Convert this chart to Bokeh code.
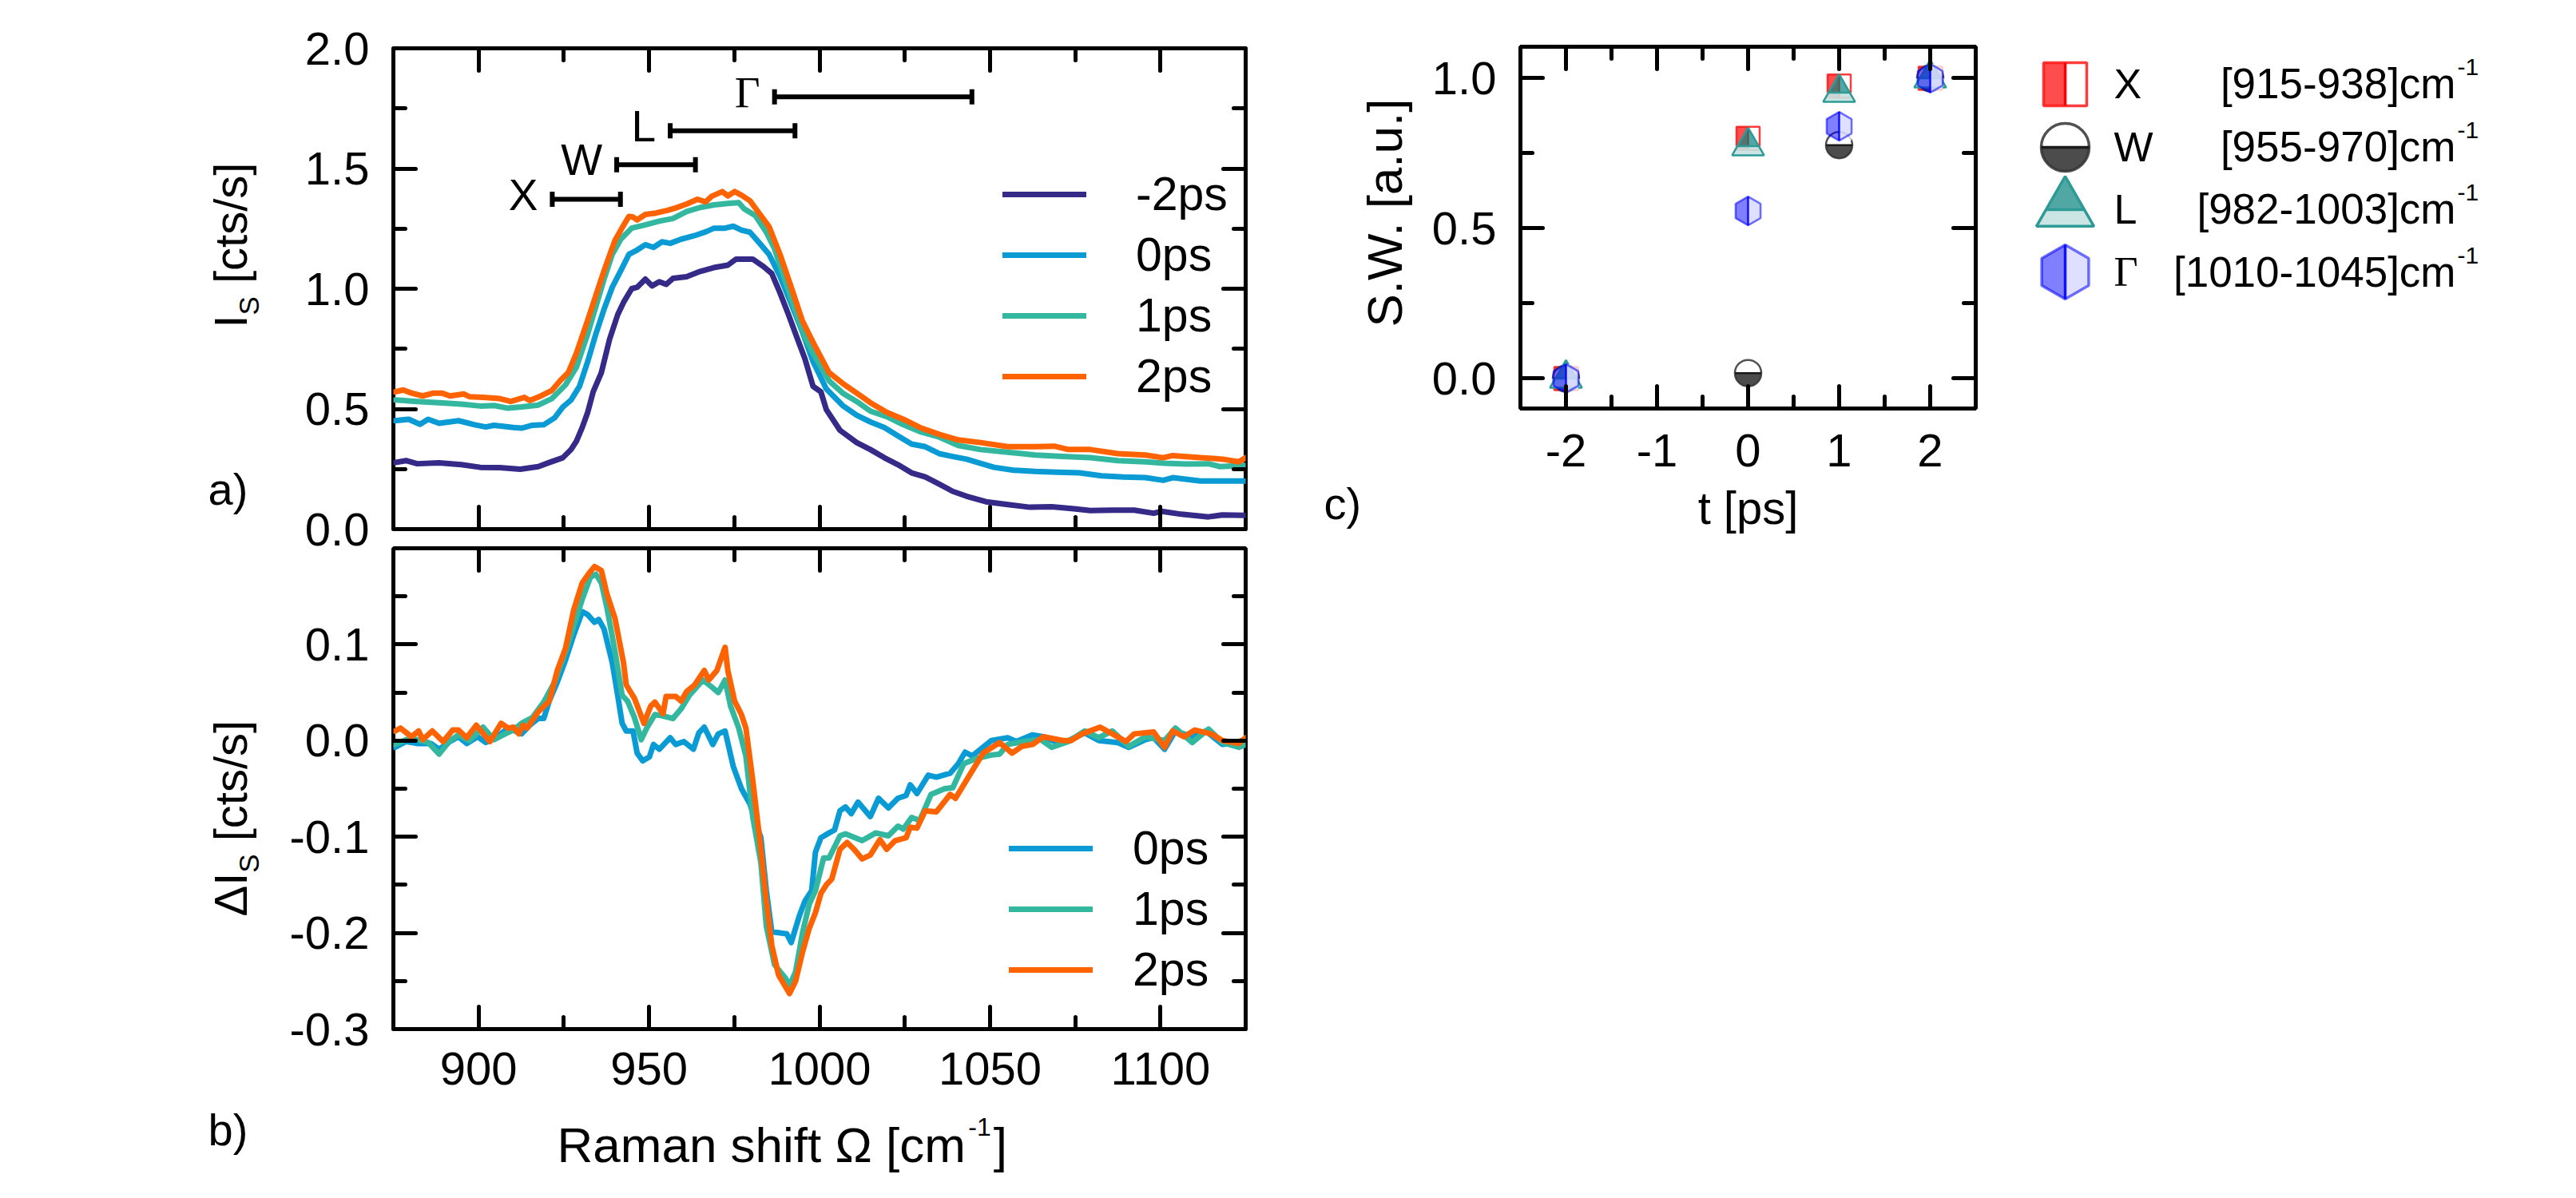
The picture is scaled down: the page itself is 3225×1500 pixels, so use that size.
import numpy as np
from bokeh.plotting import figure
from bokeh.models import (Range1d, LinearAxis, FixedTicker, PrintfTickFormatter,
                          CustomJSTickFormatter, Legend, LegendItem, Whisker,
                          TeeHead, ColumnDataSource)
from bokeh.layouts import row, column
from bokeh.transform import dodge
from bokeh.core.properties import value
from bokeh.embed import file_html
from bokeh.resources import INLINE

# ======================= DATA =======================
# ---- panel a : I_S spectra ----
a_m2_x = [875.5, 878.7, 882.0, 888.4, 894.9, 900.5, 906.2, 912.2, 917.5, 920.7, 924.7, 927.1, 928.7,
          930.4, 932.0, 933.6, 936.0, 938.4, 940.8, 942.5, 944.9, 946.5, 948.9, 950.9, 953.0, 955.0,
          957.0, 961.0, 965.0, 969.0, 973.1, 975.5, 980.4, 983.6, 986.0, 988.4, 990.9, 993.3, 995.7,
          998.1, 1000.4, 1002.0, 1006.0, 1010.9, 1014.9, 1019.0, 1023.0, 1027.0, 1031.0, 1035.0,
          1039.1, 1043.1, 1048.8, 1055.2, 1061.7, 1068.1, 1074.6, 1079.4, 1085.9, 1092.3, 1098.0,
          1100.4, 1106.1, 1114.1, 1118.2, 1124.6]
a_m2_y = [0.277, 0.285, 0.272, 0.276, 0.268, 0.257, 0.256, 0.249, 0.260, 0.277, 0.297, 0.331, 0.366,
          0.423, 0.486, 0.571, 0.651, 0.789, 0.892, 0.943, 1.000, 1.006, 1.040, 1.012, 1.029, 1.018,
          1.043, 1.050, 1.072, 1.088, 1.098, 1.123, 1.123, 1.092, 1.063, 0.983, 0.892, 0.800, 0.709,
          0.594, 0.571, 0.497, 0.411, 0.360, 0.331, 0.297, 0.268, 0.234, 0.217, 0.188,
          0.157, 0.137, 0.114, 0.102, 0.091, 0.093, 0.085, 0.077, 0.079, 0.079, 0.066,
          0.074, 0.062, 0.051, 0.059, 0.057]

a_0_x = [875.5, 879.5, 882.8, 885.2, 888.4, 894.1, 898.9, 902.1, 904.5, 910.2, 912.6, 915.8, 919.1,
         922.3, 924.7, 927.1, 929.6, 932.0, 934.4, 936.8, 939.2, 941.7, 944.1, 946.5, 948.9, 951.3,
         953.8, 956.2, 959.4, 963.4, 966.7, 969.1, 972.3, 974.7, 977.1, 979.6, 982.8, 985.2, 988.4,
         991.7, 994.9, 998.1, 1002.0, 1006.8, 1010.9, 1014.9, 1019.0, 1023.0, 1027.0, 1031.0, 1035.1,
         1039.1, 1043.1, 1047.2, 1051.2, 1056.9, 1063.3, 1069.8, 1076.2, 1082.7, 1089.1, 1095.6,
         1100.8, 1103.6, 1111.7, 1116.5, 1124.6]
a_0_y = [0.451, 0.457, 0.436, 0.457, 0.440, 0.451, 0.434, 0.425, 0.432, 0.423, 0.420, 0.432, 0.434,
         0.463, 0.508, 0.537, 0.594, 0.697, 0.812, 0.915, 1.006, 1.075, 1.143, 1.161, 1.183, 1.172,
         1.195, 1.189, 1.206, 1.221, 1.237, 1.252, 1.252, 1.260, 1.244, 1.235, 1.183, 1.143, 1.052,
         0.937, 0.823, 0.697, 0.583, 0.514, 0.474, 0.446, 0.423, 0.388, 0.354, 0.343, 0.314,
         0.302, 0.291, 0.274, 0.257, 0.245, 0.240, 0.237, 0.234, 0.222, 0.217, 0.214,
         0.203, 0.214, 0.200, 0.200, 0.200]

a_1_x = [875.5, 882.0, 888.4, 894.9, 900.5, 904.5, 908.6, 912.6, 917.5, 921.5, 925.5, 928.7, 932.0,
         934.4, 936.8, 939.2, 941.7, 944.9, 948.1, 949.7, 953.0, 957.0, 961.0, 965.0, 969.1, 973.1,
         976.3, 977.9, 981.2, 984.4, 986.8, 990.0, 993.3, 995.7, 998.1, 1002.8, 1006.8, 1010.9,
         1014.9, 1019.7, 1024.6, 1029.4, 1035.1, 1040.7, 1047.2, 1055.2, 1063.3, 1071.4, 1079.4,
         1087.5, 1095.6, 1101.2, 1107.7, 1114.1, 1117.4, 1124.6]
a_1_y = [0.537, 0.531, 0.526, 0.520, 0.512, 0.514, 0.503, 0.508, 0.516, 0.543, 0.600, 0.674, 0.812,
         0.926, 1.040, 1.143, 1.206, 1.252, 1.263, 1.269, 1.281, 1.292, 1.321, 1.338, 1.349, 1.355,
         1.358, 1.332, 1.304, 1.235, 1.166, 1.029, 0.892, 0.800, 0.732, 0.617, 0.566, 0.531,
         0.491, 0.468, 0.434, 0.406, 0.383, 0.348, 0.331, 0.320, 0.308, 0.302, 0.297,
         0.285, 0.280, 0.274, 0.271, 0.272, 0.260, 0.265]

a_2_x = [875.5, 877.9, 880.3, 883.6, 886.8, 889.2, 891.6, 895.7, 897.3, 901.3, 906.2, 909.4, 913.4,
         915.0, 918.3, 921.5, 923.9, 926.3, 928.7, 932.0, 934.4, 936.8, 940.0, 942.5, 944.1, 945.3,
         946.5, 948.9, 952.1, 955.4, 957.8, 961.0, 964.2, 966.6, 968.3, 971.5, 973.1, 975.1, 977.1,
         979.6, 982.8, 985.2, 988.4, 991.7, 994.9, 998.1, 1002.8, 1006.8, 1010.9, 1014.9, 1019.7,
         1024.6, 1029.4, 1035.1, 1040.7, 1047.2, 1055.2, 1063.3, 1068.9, 1073.0, 1079.4, 1087.5,
         1095.6, 1100.8, 1103.6, 1111.7, 1118.2, 1123.0, 1125.0]
a_2_y = [0.571, 0.579, 0.566, 0.554, 0.566, 0.566, 0.554, 0.562, 0.551, 0.548, 0.543, 0.531, 0.548,
         0.535, 0.554, 0.577, 0.617, 0.651, 0.732, 0.869, 0.972, 1.075, 1.201, 1.263, 1.301, 1.298,
         1.286, 1.309, 1.315, 1.326, 1.336, 1.352, 1.372, 1.361, 1.384, 1.404, 1.386, 1.404, 1.389,
         1.366, 1.304, 1.258, 1.143, 1.006, 0.869, 0.777, 0.651, 0.606, 0.566, 0.526, 0.486,
         0.457, 0.423, 0.394, 0.371, 0.360, 0.343, 0.343, 0.345, 0.331, 0.331, 0.314,
         0.308, 0.297, 0.306, 0.297, 0.291, 0.280, 0.297]

# integration windows drawn in panel a
band_names = ["X", "W", "L", "\u0393"]
band_lo = [921.6, 940.5, 956.2, 986.8]
band_hi = [941.6, 963.6, 992.8, 1044.7]
band_y = [1.372, 1.516, 1.657, 1.798]

# ---- panel b : Delta I_S ----
b_0_x = [875.5, 878.7, 882.0, 886.0, 888.4, 891.6, 894.1, 896.5, 899.7, 902.1, 905.4, 908.6, 912.6,
         915.0, 917.5, 919.1, 920.7, 923.1, 925.5, 927.9, 930.4, 932.0, 934.0, 935.2, 936.8, 939.2,
         940.8, 942.1, 943.3, 945.3, 946.5, 948.1, 950.1, 951.3, 953.0, 956.2, 957.8, 960.2, 963.0,
         964.6, 966.2, 968.7, 970.3, 972.3, 974.7, 977.1, 979.6, 981.2, 982.8, 984.4, 986.0, 988.4,
         990.4, 991.7, 994.1, 995.7, 997.7,
         998.8, 1000.4, 1002.8, 1004.4, 1006.0, 1007.6, 1009.3, 1011.3, 1014.9, 1017.3, 1020.2,
         1023.0, 1025.4, 1026.6, 1028.6, 1031.9, 1034.3, 1038.3, 1040.7, 1042.7, 1044.8, 1047.2,
         1050.4, 1055.2, 1057.7, 1062.5, 1065.7, 1069.0, 1073.0, 1077.8, 1081.9, 1087.5, 1090.7,
         1095.6, 1098.0, 1101.2, 1104.4, 1109.3, 1113.3, 1118.2, 1122.2, 1124.6]
b_0_y = [-0.007, -0.001, -0.003, -0.003, -0.009, -0.001, 0.004, -0.003, 0.004, -0.002, 0.004, 0.013,
         0.007, 0.016, 0.023, 0.023, 0.041, 0.061, 0.084, 0.110, 0.134, 0.131, 0.123, 0.126, 0.116,
         0.081, 0.047, 0.018, 0.010, 0.010, -0.013, -0.021, -0.017, -0.004, -0.009, 0.003, -0.004,
         -0.001, -0.009, 0.008, 0.014, -0.004, 0.007, 0.010, -0.027, -0.050, -0.066, -0.084, -0.101,
         -0.156, -0.199, -0.200, -0.201, -0.210, -0.182, -0.167, -0.156,
         -0.116, -0.101, -0.096, -0.093, -0.073, -0.069, -0.076, -0.064, -0.079, -0.060, -0.070,
         -0.060, -0.057, -0.046, -0.055, -0.036, -0.038, -0.034, -0.024, -0.012, -0.016, -0.009,
         0.000, 0.003, -0.001, 0.006, 0.004, -0.001, 0.000, 0.008, 0.000, -0.002, -0.007,
         0.001, 0.003, -0.009, 0.010, 0.004, 0.010, -0.004, -0.002, 0.001]

b_1_x = [875.5, 878.7, 882.0, 885.2, 888.4, 891.6, 894.1, 897.3, 901.3, 904.5, 907.8, 910.2, 912.6,
         915.8, 919.1, 922.3, 925.5, 927.9, 930.4, 932.8, 934.4, 936.0, 937.6, 940.0, 942.1, 943.7,
         945.7, 947.7, 949.3, 951.7, 953.7, 957.0, 959.4, 961.8, 965.8, 968.3, 970.3, 972.3, 973.9,
         976.3, 978.4, 980.4, 982.8, 984.4, 986.8, 990.0, 991.2, 993.0, 995.0, 997.0,
         998.8, 1001.2, 1002.8, 1006.0, 1007.6, 1012.5, 1016.5, 1020.2, 1023.0, 1024.6, 1027.0,
         1029.4, 1032.7, 1036.7, 1039.1, 1042.3, 1045.6, 1050.4, 1052.8, 1055.2, 1060.1, 1064.9,
         1068.1, 1073.0, 1077.8, 1081.9, 1085.9, 1090.7, 1095.6, 1101.2, 1104.4, 1109.3, 1114.1,
         1118.2, 1123.0, 1125.0]
b_1_y = [-0.004, 0.001, 0.001, -0.002, -0.014, 0.000, 0.006, 0.000, 0.014, 0.001, 0.007, 0.011, 0.018,
         0.024, 0.040, 0.061, 0.093, 0.119, 0.147, 0.170, 0.173, 0.164, 0.139, 0.093, 0.047, 0.041,
         0.024, 0.001, 0.013, 0.027, 0.026, 0.023, 0.033, 0.047, 0.063, 0.056, 0.050, 0.063, 0.036,
         0.013, -0.016, -0.079, -0.127, -0.193, -0.233, -0.247, -0.255, -0.240, -0.200, -0.170,
         -0.156, -0.122, -0.122, -0.099, -0.097, -0.104, -0.096, -0.099, -0.089, -0.092, -0.080,
         -0.083, -0.056, -0.050, -0.049, -0.024, -0.019, -0.015, -0.014, -0.004, -0.001, 0.001,
         -0.007, -0.001, 0.010, 0.003, 0.010, -0.006, 0.004, 0.000, 0.013, -0.002, 0.012,
         -0.002, -0.007, -0.004]

b_2_x = [875.5, 877.1, 880.3, 882.4, 883.6, 886.4, 889.6, 892.4, 894.1, 896.5, 899.3, 903.3, 906.6,
         908.6, 910.2, 911.8, 913.0, 914.2, 917.5, 920.7, 923.1, 925.5, 927.9, 930.4, 932.4, 934.0,
         936.0, 937.6, 940.0, 942.5, 943.3, 945.7, 948.5, 950.5, 951.7, 954.1, 955.0, 957.8, 959.4,
         961.0, 963.4, 966.2, 967.5, 969.9, 972.3, 973.1, 975.1, 977.1, 978.4, 980.4, 982.8, 984.4,
         986.0, 988.0, 991.2, 993.0, 995.0, 997.0,
         998.8, 1000.4, 1002.0, 1003.6, 1006.0, 1008.1, 1010.1, 1012.5, 1014.9, 1017.7, 1019.7,
         1022.2, 1025.4, 1026.6, 1028.6, 1031.0, 1034.3, 1038.3, 1039.9, 1044.0, 1048.0, 1052.8,
         1056.5, 1059.3, 1062.5, 1065.7, 1071.4, 1073.8, 1077.0, 1082.3, 1085.9, 1089.9, 1092.3,
         1098.0, 1101.2, 1103.6, 1106.9, 1110.1, 1114.9, 1118.2, 1123.0, 1125.0]
b_2_y = [0.010, 0.013, 0.004, 0.010, 0.001, 0.010, -0.001, 0.011, 0.011, 0.003, 0.016, -0.001, 0.018,
         0.013, 0.014, 0.007, 0.016, 0.013, 0.030, 0.041, 0.073, 0.096, 0.136, 0.164, 0.174, 0.181,
         0.177, 0.153, 0.127, 0.081, 0.058, 0.044, 0.018, 0.036, 0.040, 0.028, 0.046, 0.046, 0.041,
         0.051, 0.058, 0.073, 0.063, 0.073, 0.097, 0.073, 0.041, 0.027, 0.013, -0.041, -0.113, -0.167,
         -0.213, -0.244, -0.263, -0.250, -0.220, -0.195,
         -0.179, -0.159, -0.150, -0.144, -0.113, -0.106, -0.113, -0.123, -0.119, -0.103, -0.113,
         -0.104, -0.101, -0.090, -0.091, -0.073, -0.074, -0.056, -0.060, -0.036, -0.013, -0.002,
         -0.013, -0.006, -0.004, 0.004, 0.000, 0.000, 0.007, 0.014, 0.007, -0.001, 0.007,
         0.009, -0.007, 0.010, 0.004, 0.011, 0.007, 0.000, -0.003, 0.003]

# ---- panel c : spectral weight ----
t_ps = [-2, 0, 1, 2]
sw_X = [0.0, 0.800, 0.974, 1.0]
sw_W = [0.0, 0.018, 0.777, 1.0]
sw_L = [0.0, 0.774, 0.952, 1.0]
sw_G = [0.0, 0.558, 0.840, 1.0]
c_names = ["X", "W", "L", "\u0393"]
c_ranges = ["[915-938]cm", "[955-970]cm", "[982-1003]cm", "[1010-1045]cm"]

# tick values
ab_xticks = [900, 950, 1000, 1050, 1100]
ab_xminor = [925, 975, 1025, 1075]
a_yticks = [0.0, 0.5, 1.0, 1.5, 2.0]
a_yminor = [0.25, 0.75, 1.25, 1.75]
b_yticks = [-0.3, -0.2, -0.1, 0.0, 0.1]
b_yminor = [-0.25, -0.15, -0.05, 0.05, 0.15]
c_xticks = [-2, -1, 0, 1, 2]
c_xminor = [-1.5, -0.5, 0.5, 1.5]
c_yticks = [0.0, 0.5, 1.0]
c_yminor = [0.25, 0.75]

# ======================= STYLE / GEOMETRY =======================
SANS = "Liberation Sans"
SERIF = "Liberation Serif"
C_M2, C_0, C_1, C_2 = "#352A87", "#0A9BD4", "#33B89F", "#FF6300"
RED, RED_L = "#FF0000", "#FF1A1A"
GRAY, GRAY_L = "#1A1A1A", "#333333"
TEAL, TEAL_L = "#0E8580", "#2E9A96"
BLUE = "#0000FF"
LINE_W = 7

# page geometry (page origin at 0,0)
SL_W = 345                      # left strip with y titles and a)/b)
A_BL, A_FW, A_BR = 147, 1067, 80
A_BT, A_FH, A_BB = 60, 602, 22
B_BT, B_FH, B_BB = 2, 602, 96
XB_H = 100                      # strip below panel b with x title
MID_W = A_BL + A_FW + A_BR
COL_H = A_BT + A_FH + A_BB + B_BT + B_FH + B_BB + XB_H
CL_X0 = SL_W + MID_W            # strip left of panel c
CL_W, CL_H = 146, 690
C_BL, C_FW, C_BR, C_BT, C_FH = 118, 570, 10, 58, 453
LEG_X0 = CL_X0 + CL_W + C_BL + C_FW + C_BR
LEG_W, LEG_H = 734, 500

AW = {' ': .278, '[': .278, ']': .278, 'c': .5, 't': .278, 's': .5, '/': .278, 'a': .556, 'u': .556,
      '.': .278, 'S': .667, 'W': .944, 'I': .278, '\u0394': .668, 'p': .556, 'R': .722, 'm': .833,
      'n': .556, 'h': .556, 'i': .222, 'f': .278, '-': .333, '\u03a9': .768, '\u0393': .578}


def tw(s, size):
    return sum(AW.get(ch, .556) for ch in s) * size


def make_fig(xr, yr, bl, fw, br, bt, fh, bb):
    p = figure(title=None, frame_width=fw, frame_height=fh, x_range=Range1d(*xr),
               y_range=Range1d(*yr), frame_align=False,
               min_border_left=bl, min_border_right=br, min_border_top=bt, min_border_bottom=bb,
               output_backend="svg", toolbar_location=None,
               background_fill_color="white", border_fill_color="white")
    p.xgrid.visible = False
    p.ygrid.visible = False
    p.outline_line_color = "black"
    p.outline_line_width = 5
    p.add_layout(LinearAxis(), "above")
    p.add_layout(LinearAxis(), "right")
    return p


def style_axis(ax, ticks, minor, fmt, standoff=0):
    ax.ticker = FixedTicker(ticks=ticks, minor_ticks=minor)
    ax.axis_line_color = None
    ax.major_tick_in = 28
    ax.major_tick_out = 0
    ax.minor_tick_in = 15
    ax.minor_tick_out = 0
    ax.major_tick_line_width = 5
    ax.minor_tick_line_width = 5
    ax.major_tick_line_color = "black"
    ax.minor_tick_line_color = "black"
    ax.major_tick_line_cap = "round"
    ax.minor_tick_line_cap = "round"
    ax.major_label_text_font = SANS
    ax.major_label_text_font_size = "58px"
    ax.major_label_text_color = "black"
    if fmt is None:
        ax.formatter = CustomJSTickFormatter(code="return ''")
        ax.major_label_standoff = 0
    else:
        ax.formatter = PrintfTickFormatter(format=fmt)
        ax.major_label_standoff = standoff


def strip(w, h):
    p = figure(title=None, frame_width=w, frame_height=h, x_range=Range1d(0, w),
               y_range=Range1d(0, h), frame_align=False, min_border=0, min_border_top=0,
               min_border_bottom=0, min_border_left=0, min_border_right=0,
               x_axis_type=None, y_axis_type=None,
               output_backend="svg", toolbar_location=None, outline_line_color=None,
               background_fill_color="white", border_fill_color="white")
    p.xgrid.visible = False
    p.ygrid.visible = False
    return p


class TextRuns:
    """text pieces given in page coordinates (anchor = middle of the text line)"""
    def __init__(self, x0, y_bottom):
        self.x0, self.yb = x0, y_bottom
        self.d = dict(x=[], y=[], text=[], font=[], size=[], angle=[], align=[])

    def add(self, X, Y, text, size, font=SANS, angle=0.0, align="left"):
        self.d["x"].append(X - self.x0)
        self.d["y"].append(self.yb - Y)
        self.d["text"].append(text)
        self.d["font"].append(font)
        self.d["size"].append(f"{size}px")
        self.d["angle"].append(angle)
        self.d["align"].append(align)

    def run_h(self, X, Y, pieces):
        # pieces: (text, size, font, raise_px, gap_after_px)
        for text, size, font, dy, gap in pieces:
            self.add(X, Y - dy, text, size, font)
            X += tw(text, size) + gap

    def run_v(self, X, Y, pieces):
        # rotated 90 deg, reading upwards; pieces: (text, size, font, shift_px, gap_after_px)
        for text, size, font, dx, gap in pieces:
            self.add(X + dx, Y, text, size, font, angle=np.pi / 2)
            Y -= tw(text, size) + gap

    def draw(self, p):
        p.text(x="x", y="y", text="text", source=ColumnDataSource(self.d), text_font="font",
               text_font_size="size", angle="angle", text_align="align",
               text_baseline="middle", text_color="black")


def spectra(p, series):
    rs = []
    for xs, ys, col in series:
        rs.append(p.line(xs, ys, line_color=col, line_width=LINE_W, line_join="round",
                         line_cap="round"))
    return rs


def legend(p, labels, rs, loc, standoff):
    lg = Legend(items=[LegendItem(label=l, renderers=[r]) for l, r in zip(labels, rs)],
                location=loc, orientation="vertical", glyph_width=105, glyph_height=76,
                label_standoff=standoff, spacing=0, padding=0, margin=0, border_line_color=None,
                background_fill_alpha=0, label_text_font=SANS, label_text_font_size="59px",
                label_text_color="black", label_height=76, label_text_baseline="middle")
    p.add_layout(lg)


# ---------------- panel a ----------------
fa = make_fig((875, 1125), (0, 2.0), A_BL, A_FW, A_BR, A_BT, A_FH, A_BB)
style_axis(fa.left[0], a_yticks, a_yminor, "%.1f", 30)
style_axis(fa.right[0], a_yticks, a_yminor, None)
style_axis(fa.below[0], ab_xticks, ab_xminor, None)
style_axis(fa.above[0], ab_xticks, ab_xminor, None)
ra = spectra(fa, [(a_m2_x, a_m2_y, C_M2), (a_0_x, a_0_y, C_0), (a_1_x, a_1_y, C_1), (a_2_x, a_2_y, C_2)])
legend(fa, ["-2ps", "0ps", "1ps", "2ps"], ra, (763, 153), 62)

band_src = ColumnDataSource(dict(name=band_names, lo=band_lo, hi=band_hi, y=band_y,
                                 font=[SANS, SANS, SANS, SERIF]))
fa.add_layout(Whisker(source=band_src, base="y", lower="lo", upper="hi", dimension="width",
                      line_width=6, line_color="black",
                      lower_head=TeeHead(size=19, line_width=6, line_color="black"),
                      upper_head=TeeHead(size=19, line_width=6, line_color="black")))
fa.text(x="lo", y="y", text="name", source=band_src, text_font="font",
        text_font_size=value("55px"), text_color="black", text_align="right",
        text_baseline="middle", x_offset=-18, y_offset=-6)

# ---------------- panel b ----------------
fb = make_fig((875, 1125), (-0.3, 0.2), A_BL, A_FW, A_BR, B_BT, B_FH, B_BB)
style_axis(fb.left[0], b_yticks, b_yminor, "%.1f", 30)
style_axis(fb.right[0], b_yticks, b_yminor, None)
style_axis(fb.below[0], ab_xticks, ab_xminor, "%d", 29)
style_axis(fb.above[0], ab_xticks, ab_xminor, None)
rb = spectra(fb, [(b_0_x, b_0_y, C_0), (b_1_x, b_1_y, C_1), (b_2_x, b_2_y, C_2)])
legend(fb, ["0ps", "1ps", "2ps"], rb, (771, 36), 50)

# ---------------- left strip: y titles, a) b) ----------------
sl = strip(SL_W, COL_H)
tl = TextRuns(0, COL_H)
tl.run_v(288, 410, [("I", 58, SANS, 0, 0), ("S", 35, SANS, 23, 16), ("[cts/s]", 58, SANS, 0, 0)])
tl.run_v(288, 1147, [("\u0394", 58, SANS, 0, 0), ("I", 58, SANS, 0, 0), ("S", 35, SANS, 23, 16),
                     ("[cts/s]", 58, SANS, 0, 0)])
tl.add(260, 612, "a)", 56)
tl.add(260, 1414, "b)", 56)
tl.draw(sl)

# ---------------- strip below b: x title ----------------
xb = strip(MID_W, XB_H)
tx = TextRuns(SL_W, COL_H)
tx.run_h(697, 1433, [("Raman shift \u03a9 [cm", 62, SANS, 0, 2), ("-1", 32, SANS, 23, 3),
                     ("]", 62, SANS, 0, 0)])
tx.draw(xb)

# ---------------- panel c ----------------
fc = make_fig((-2.5, 2.5), (-0.1, 1.105), C_BL, C_FW, C_BR, C_BT, C_FH, 10)
style_axis(fc.left[0], c_yticks, c_yminor, "%.1f", 30)
style_axis(fc.right[0], c_yticks, c_yminor, None)
style_axis(fc.below[0], c_xticks, c_xminor, "%d", 32)
style_axis(fc.above[0], c_xticks, c_xminor, None)
fc.below[0].axis_label = "t [ps]"
fc.below[0].axis_label_text_font = SANS
fc.below[0].axis_label_text_font_size = "58px"
fc.below[0].axis_label_text_font_style = "normal"
fc.below[0].axis_label_text_color = "black"
fc.below[0].axis_label_standoff = 16

PXX = C_FW / 5.0
PXY = C_FH / 1.205


def draw_square(p, src, s, pxx, pxy, lw):
    p.scatter("t", "v", source=src, marker="square", size=s, fill_color="white", fill_alpha=0.7,
              line_color=None)
    p.rect(x=dodge("t", -s / 4 / pxx), y="v", source=src, width=s / 2, height=s,
           width_units="screen", height_units="screen", fill_color=RED, fill_alpha=0.7,
           line_color=None)
    p.scatter("t", "v", source=src, marker="square", size=s, fill_color=None, line_color=RED_L,
              line_alpha=0.85, line_width=lw)
    p.scatter("t", "v", source=src, marker="dash", angle=np.pi / 2, size=s, line_color=RED,
              line_width=lw)


def draw_circle(p, src, s, pxx, pxy, lw):
    p.scatter("t", "v", source=src, marker="circle", size=s, fill_color="white", fill_alpha=0.7,
              line_color=None)
    p.wedge(x="t", y="v", source=src, radius=s / 2, radius_units="screen", start_angle=np.pi,
            end_angle=2 * np.pi, fill_color=GRAY, fill_alpha=0.78, line_color=None)
    p.scatter("t", "v", source=src, marker="circle", size=s, fill_color=None, line_color=GRAY_L,
              line_alpha=0.85, line_width=lw)
    p.scatter("t", "v", source=src, marker="dash", size=s, line_color=GRAY, line_width=lw)


def draw_triangle(p, src, s, pxx, pxy, lw):
    h = s * np.sqrt(3) / 2
    p.scatter("t", "v", source=src, marker="triangle", size=s, fill_color=TEAL, fill_alpha=0.72,
              line_color=None)
    p.rect(x="t", y=dodge("v", -(h / 6) / pxy), source=src, width=s, height=h / 3,
           width_units="screen", height_units="screen", fill_color="white", fill_alpha=0.7,
           line_color=None)
    p.scatter("t", "v", source=src, marker="triangle", size=s, fill_color=None, line_color=TEAL_L,
              line_width=lw)
    p.scatter("t", "v", source=src, marker="dash", size=2 * s / 3, line_color=TEAL_L, line_width=lw)


def draw_hex(p, src, s, pxx, pxy, lw):
    w = s * np.sqrt(3) / 2
    p.scatter("t", "v", source=src, marker="hex", angle=np.pi / 2, size=s, fill_color=BLUE,
              fill_alpha=0.5, line_color=None)
    p.rect(x=dodge("t", (w / 4) / pxx), y="v", source=src, width=w / 2, height=s,
           width_units="screen", height_units="screen", fill_color="white", fill_alpha=0.75,
           line_color=None)
    p.scatter("t", "v", source=src, marker="hex", angle=np.pi / 2, size=s, fill_color=None,
              line_color=BLUE, line_alpha=0.55, line_width=lw)
    p.scatter("t", "v", source=src, marker="dash", angle=np.pi / 2, size=s, line_color=BLUE,
              line_alpha=0.9, line_width=lw)


draw_square(fc, ColumnDataSource(dict(t=t_ps, v=sw_X)), 29, PXX, PXY, 2.5)
draw_circle(fc, ColumnDataSource(dict(t=t_ps, v=sw_W)), 33, PXX, PXY, 2.5)
draw_triangle(fc, ColumnDataSource(dict(t=t_ps, v=sw_L)), 40, PXX, PXY, 2.5)
draw_hex(fc, ColumnDataSource(dict(t=t_ps, v=sw_G)), 36, PXX, PXY, 2.5)

# ---------------- strip left of c: c) and y title ----------------
cl = strip(CL_W, CL_H)
tc = TextRuns(CL_X0, CL_H)
tc.add(1657, 630, "c)", 56)
tc.add(1733, 266, "S.W. [a.u.]", 62, angle=np.pi / 2, align="center")
tc.draw(cl)

# ---------------- legend of panel c ----------------
fl = strip(LEG_W, LEG_H)
mk_x = 2585 - LEG_X0
row_y = [LEG_H - Y for Y in (105, 184, 262, 340)]
text_y = [LEG_H - Y for Y in (104, 183, 261, 340)]
draw_square(fl, ColumnDataSource(dict(t=[mk_x], v=[row_y[0]])), 54, 1, 1, 3.5)
draw_circle(fl, ColumnDataSource(dict(t=[mk_x], v=[row_y[1]])), 60, 1, 1, 3.5)
draw_triangle(fl, ColumnDataSource(dict(t=[mk_x], v=[row_y[2]])), 72, 1, 1, 3.5)
draw_hex(fl, ColumnDataSource(dict(t=[mk_x], v=[row_y[3]])), 68, 1, 1, 3.5)

lsrc = ColumnDataSource(dict(x=[2646 - LEG_X0] * 4, y=text_y, name=c_names,
                             font=[SANS, SANS, SANS, SERIF],
                             rx=[3074 - LEG_X0] * 4, rng=c_ranges,
                             sx=[3076 - LEG_X0] * 4, sy=[b + 21 for b in text_y],
                             sup=["-1"] * 4))
fl.text(x="x", y="y", text="name", source=lsrc, text_font="font", text_font_size=value("52px"),
        text_color="black", text_align="left", text_baseline="middle")
fl.text(x="rx", y="y", text="rng", source=lsrc, text_font=value(SANS), text_font_size=value("53px"),
        text_color="black", text_align="right", text_baseline="middle")
fl.text(x="sx", y="sy", text="sup", source=lsrc, text_font=value(SANS), text_font_size=value("30px"),
        text_color="black", text_align="left", text_baseline="middle")

layout = row(sl, column(fa, fb, xb), cl, fc, fl)
open("out.html", "w").write(file_html(layout, INLINE, "Raman spectral weight"))
